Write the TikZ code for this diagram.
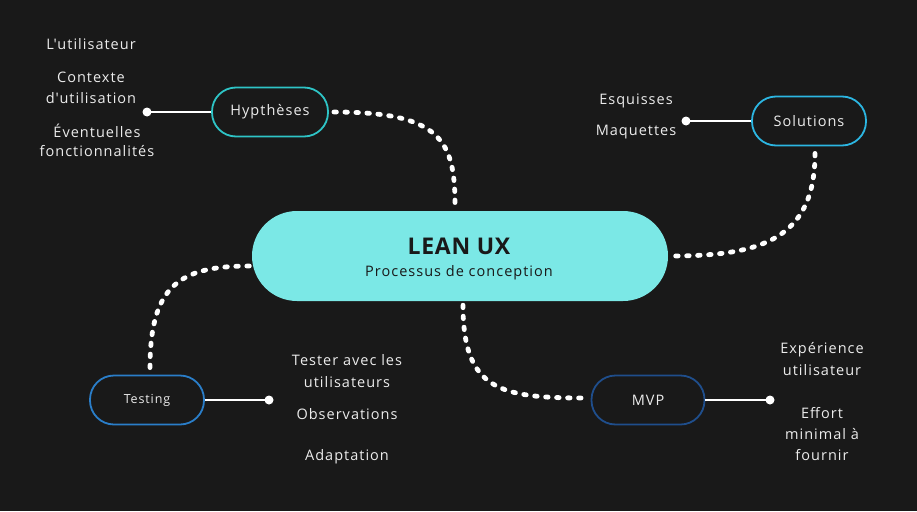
\documentclass[tikz,border=0pt]{standalone}
\usepackage{fontspec}
\setmainfont[LetterSpace=7,Ligatures=TeXOff]{Open Sans}
\newfontfamily\titlefont[LetterSpace=3]{Open Sans}
\usetikzlibrary{calc}
\definecolor{bg}{HTML}{191919}
\definecolor{core}{HTML}{7BE8E6}
\definecolor{hypc}{HTML}{2EC4C6}
\definecolor{solc}{HTML}{2CB6E2}
\definecolor{tstc}{HTML}{2A7EC9}
\definecolor{mvpc}{HTML}{1F4E8C}
\definecolor{txt}{HTML}{ECECEC}
\begin{document}
\begin{tikzpicture}[x=1pt,y=-1pt,
  pill/.style={draw=#1,line width=1.8pt,fill=bg,rounded corners=24pt,minimum height=49pt,inner sep=0pt},
  lbl/.style={text=txt,font=\fontsize{14.5}{17}\selectfont,inner sep=0pt,anchor=center,yshift=-1.5pt},
  dotn/.style={circle,fill=white,minimum size=9pt,inner sep=0pt},
  stem/.style={draw=white,line width=1.2pt},
  dotted path/.style={draw=white,line width=4.8pt,line cap=round,dash pattern=on 2.5pt off 8.5pt}]
\fill[bg] (0,0) rectangle (917,511);
\useasboundingbox (0,0) rectangle (917,511);

% central node
\node[fill=core,rounded corners=45pt,minimum width=416pt,minimum height=90pt,inner sep=0pt] (core) at (460,256) {};
\node[text=bg,font=\titlefont\fontsize{23}{27}\bfseries\selectfont,inner sep=0pt] (title) at (459,246.5) {LEAN UX};
\node[text=bg,font=\fontsize{14.5}{17}\selectfont,inner sep=0pt] (sub) at (459,273) {Processus de conception};

% satellites
\node[pill=hypc,minimum width=116pt,text=txt,font=\fontsize{14.5}{17}\selectfont] (hyp) at (270,112) {Hypthèses};
\node[pill=solc,minimum width=114pt,text=txt,font=\fontsize{14.5}{17}\selectfont] (sol) at (809,121) {Solutions};
\node[pill=tstc,minimum width=114pt,text=txt,font=\fontsize{12.5}{15}\selectfont] (tst) at (147,400) {Testing};
\node[pill=mvpc,minimum width=113pt,text=txt,font=\fontsize{14.5}{17}\selectfont] (mvp) at (648,400) {MVP};

% dots and stems
\node[dotn] (hd) at (147,112) {};
\node[dotn] (sd) at (686,121) {};
\node[dotn] (td) at (269,400) {};
\node[dotn] (md) at (770,400) {};
\draw[stem] (hyp.west) -- (hd.center);
\draw[stem] (sol.west) -- (sd.center);
\draw[stem] (tst.east) -- (td.center);
\draw[stem] (mvp.east) -- (md.center);

% dotted connectors
\coordinate (c1) at ($(core.north)+(-5,-6)$);
\coordinate (c2) at ($(core.east)+(2,0)$);
\coordinate (c3) at ($(core.west)+(-2,10)$);
\coordinate (c4) at ($(core.south)+(3,4)$);
\coordinate (h1) at ($(hyp.east)+(5,0)$);
\coordinate (s1) at ($(sol.south)+(6,7)$);
\coordinate (t1) at ($(tst.north)+(3,-7)$);
\coordinate (m1) at ($(mvp.west)+(-6,-2)$);
\draw[dotted path] (h1) .. controls (440,112) and (455,140) .. (c1);
\draw[dotted path] (s1) .. controls (815,240) and (760,256) .. (c2);
\draw[dotted path] (t1) .. controls (150,285) and (180,266) .. (c3);
\draw[dotted path] (c4) .. controls (463,390) and (500,398) .. (m1);

% labels Hypotheses
\node[lbl] (h_a) at (91,43) {L'utilisateur};
\node[lbl] (h_b) at (91,76) {Contexte};
\node[lbl] (h_c) at (91,97) {d'utilisation};
\node[lbl] (h_d) at (97,129) {Éventuelles};
\node[lbl] (h_e) at (97,150) {fonctionnalités};
% Solutions
\node[lbl] (s_a) at (636,99) {Esquisses};
\node[lbl] (s_b) at (636,131) {Maquettes};
% Testing
\node[lbl] (t_a) at (347,359) {Tester avec les};
\node[lbl] (t_b) at (347,381) {utilisateurs};
\node[lbl] (t_c) at (347,413) {Observations};
\node[lbl] (t_d) at (347,455) {Adaptation};
% MVP
\node[lbl] (m_a) at (822,348) {Expérience};
\node[lbl] (m_b) at (822,369) {utilisateur};
\node[lbl] (m_c) at (822,412) {Effort};
\node[lbl] (m_d) at (822,433) {minimal à};
\node[lbl] (m_e) at (822,454) {fournir};
\end{tikzpicture}
\end{document}
